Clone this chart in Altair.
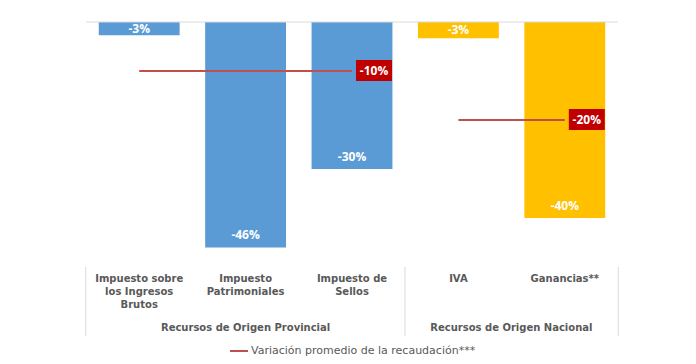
import altair as alt
import pandas as pd

categories = ["Impuesto sobre|los Ingresos|Brutos", "Impuesto|Patrimoniales",
              "Impuesto de|Sellos", "IVA", "Ganancias**"]
values = [-2.7, -46, -30, -3.3, -40]
value_labels = ["-3%", "-46%", "-30%", "-3%", "-40%"]
group_names = ["Recursos de Origen Provincial", "Recursos de Origen Nacional"]
groups = [group_names[0]] * 3 + [group_names[1]] * 2
avg_values = [-10, -20]
avg_labels = ["-10%", "-20%"]
avg_start = [categories[0], categories[3]]
avg_end = [categories[2], categories[4]]
legend_text = "Variación promedio de la recaudación***"
baseline_value = [0]

FONT = "Open Sans"
AXFONT = "DejaVu Sans"
GRAY = "#595959"
W, H = 532, 245

bars_df = pd.DataFrame({"cat": categories, "value": values,
                        "label": value_labels, "group": groups})
avg_df = pd.DataFrame({"start": avg_start, "end": avg_end, "avg": avg_values,
                       "label": avg_labels, "serie": [legend_text] * 2})
zero_df = pd.DataFrame({"z": baseline_value})
sep_start_df = pd.DataFrame({"cat": [categories[0], categories[3]]})
sep_end_df = pd.DataFrame({"cat": [categories[4]]})
glab1_df = pd.DataFrame({"cat": [categories[1]], "g": [group_names[0]]})
glab2_df = pd.DataFrame({"cat": [categories[4]], "g": [group_names[1]]})

x_scale = alt.Scale(domain=categories, paddingInner=0.24, paddingOuter=0.12)
x_axis = alt.Axis(domain=False, ticks=False, grid=False, labelAngle=0,
                  labelExpr="split(datum.label, '|')", labelFont=AXFONT,
                  labelFontWeight="bold", labelFontSize=10, labelColor=GRAY,
                  labelLineHeight=13, labelPadding=6, labelAlign="center")
y_scale = alt.Scale(domain=[-50, 0], nice=False, zero=False)


def X(field, **kw):
    return alt.X(field, type="nominal", scale=x_scale, axis=x_axis, title=None, **kw)


def Y(field):
    return alt.Y(field, type="quantitative", scale=y_scale, axis=None)


zero = alt.Chart(zero_df).mark_rule(color="#D9D9D9", strokeWidth=1).encode(y=Y("z"))

bars = alt.Chart(bars_df).mark_bar().encode(
    x=X("cat"), y=Y("value"),
    color=alt.Color("group:N", scale=alt.Scale(domain=group_names,
                    range=["#5B9BD5", "#FFC000"]), legend=None))

big_text = alt.Chart(bars_df).transform_filter("datum.value < -10").mark_text(
    color="white", font=FONT, fontWeight="bold", fontSize=12, baseline="middle",
    dy=-12).encode(x=X("cat"), y=Y("value"), text="label:N")

small_text = alt.Chart(bars_df).transform_filter("datum.value >= -10").transform_calculate(
    mid="datum.value / 2").mark_text(
    color="white", font=FONT, fontWeight="bold", fontSize=12, baseline="middle").encode(
    x=X("cat"), y=Y("mid"), text="label:N")

avg_rule = alt.Chart(avg_df).mark_rule(strokeWidth=2).encode(
    x=X("start"), x2="end", y=Y("avg"),
    stroke=alt.Stroke("serie:N", scale=alt.Scale(domain=[legend_text], range=["#C0504D"]),
                      legend=alt.Legend(title=None, orient="none", legendX=143, legendY=319,
                                        symbolType="stroke", symbolSize=324,
                                        symbolStrokeWidth=2, labelFont=AXFONT,
                                        labelFontSize=11, labelColor=GRAY,
                                        labelLimit=0, labelOffset=2, padding=0)))

box = alt.Chart(avg_df).mark_bar(color="#C00000", width=36, xOffset=22,
                                 yOffset=-11, y2Offset=10).encode(
    x=X("end"), y=Y("avg"), y2="avg")

box_text = alt.Chart(avg_df).mark_text(color="white", font=FONT, fontWeight="bold",
                                       fontSize=12, baseline="middle", dx=22).encode(
    x=X("end"), y=Y("avg"), text="label:N")

sep1 = alt.Chart(sep_start_df).mark_rule(color="#D9D9D9", xOffset=-13).encode(
    x=X("cat", bandPosition=0), y=alt.value(H), y2=alt.value(H + 69))
sep2 = alt.Chart(sep_end_df).mark_rule(color="#D9D9D9", xOffset=13).encode(
    x=X("cat", bandPosition=1), y=alt.value(H), y2=alt.value(H + 69))

glab1 = alt.Chart(glab1_df).mark_text(font=AXFONT, fontWeight="bold", fontSize=10,
                                      color=GRAY, baseline="middle").encode(
    x=X("cat"), y=alt.value(H + 61), text="g:N")
glab2 = alt.Chart(glab2_df).mark_text(font=AXFONT, fontWeight="bold", fontSize=10,
                                      color=GRAY, baseline="middle", xOffset=-13).encode(
    x=X("cat", bandPosition=0), y=alt.value(H + 61), text="g:N")

chart = alt.layer(bars, zero, big_text, small_text, avg_rule, box, box_text,
                  sep1, sep2, glab1, glab2).properties(
    width=W, height=H, background="white",
    padding={"left": 77, "top": 13, "right": 5, "bottom": 0}
).configure_view(stroke=None)

chart.save("out.html", embed_options={"renderer": "svg", "actions": False})
